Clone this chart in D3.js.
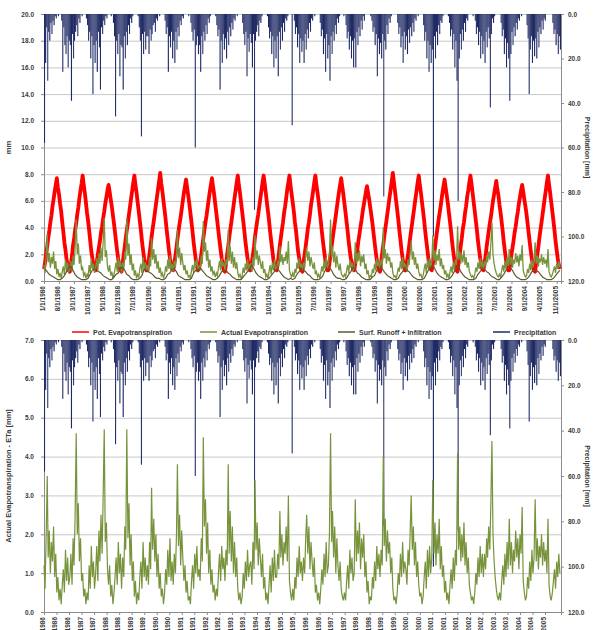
<!DOCTYPE html>
<html><head><meta charset="utf-8">
<script src="https://cdn.jsdelivr.net/npm/d3@7"></script>
<style>
body{margin:0;background:#fff}
svg{display:block}
text{font-family:"Liberation Sans",Arial,sans-serif}
</style>
</head><body>
<svg id="chart" width="593" height="630"></svg>
<script>
// ---------- DATA ----------
const years = [1986,1987,1988,1989,1990,1991,1992,1993,1994,1995,1996,1997,1998,1999,2000,2001,2002,2003,2004,2005];

// Potential evapotranspiration, mm/day, two values per month (1st, 16th)
const petValues = [
[0.9,1.4,2.1,2.6,3.2,3.7,4.4,4.9,5.6,6.1,6.7,7.2,7.7,7.0,6.5,5.8,5.2,4.4,3.7,2.9,2.3,1.6,1.2,0.8],
[0.7,1.3,1.9,2.7,3.1,3.8,4.3,5.0,5.5,6.2,6.8,7.3,7.9,7.2,6.6,5.9,5.1,4.5,3.8,3.0,2.2,1.7,1.1,0.9],
[0.8,1.4,2.0,2.5,3.0,3.6,4.1,4.7,5.2,5.8,6.3,6.8,7.2,6.7,6.1,5.6,4.9,4.3,3.6,2.9,2.2,1.6,1.1,0.8],
[0.7,1.3,2.0,2.6,3.2,3.8,4.4,5.0,5.6,6.2,6.8,7.4,7.9,7.2,6.6,5.9,5.2,4.5,3.8,3.0,2.3,1.7,1.2,0.8],
[0.8,1.4,2.1,2.7,3.3,3.9,4.5,5.1,5.7,6.3,6.9,7.5,8.1,7.3,6.7,6.0,5.3,4.6,3.8,3.1,2.3,1.7,1.2,0.9],
[0.8,1.3,1.9,2.5,3.1,3.7,4.3,4.8,5.4,6.0,6.6,7.1,7.6,7.0,6.4,5.8,5.1,4.4,3.7,2.9,2.2,1.6,1.1,0.8],
[0.9,1.4,2.0,2.6,3.2,3.8,4.4,4.9,5.5,6.1,6.7,7.2,7.7,7.1,6.5,5.8,5.1,4.4,3.7,3.0,2.3,1.7,1.2,0.8],
[0.7,1.3,2.0,2.6,3.2,3.8,4.4,5.0,5.6,6.2,6.8,7.4,7.9,7.2,6.6,5.9,5.2,4.5,3.8,3.0,2.3,1.7,1.1,0.8],
[0.8,1.4,2.0,2.6,3.3,3.9,4.5,5.0,5.6,6.2,6.8,7.4,7.9,7.3,6.6,5.9,5.2,4.5,3.7,3.0,2.3,1.6,1.2,0.9],
[0.8,1.3,2.0,2.7,3.2,3.8,4.4,5.1,5.6,6.2,6.9,7.4,7.9,7.2,6.5,5.9,5.2,4.4,3.8,3.0,2.2,1.7,1.2,0.8],
[0.7,1.4,2.0,2.6,3.2,3.9,4.4,5.0,5.7,6.2,6.8,7.4,7.9,7.2,6.6,6.0,5.2,4.5,3.7,3.0,2.3,1.7,1.1,0.8],
[0.8,1.3,2.0,2.6,3.1,3.7,4.3,4.9,5.5,6.1,6.7,7.2,7.7,7.1,6.5,5.8,5.1,4.4,3.7,2.9,2.2,1.6,1.2,0.9],
[0.8,1.3,1.9,2.4,3.0,3.5,4.1,4.6,5.2,5.7,6.2,6.7,7.1,6.6,6.1,5.5,4.9,4.3,3.6,2.9,2.2,1.6,1.1,0.8],
[0.7,1.4,2.1,2.7,3.3,3.9,4.5,5.1,5.7,6.3,6.9,7.5,8.1,7.4,6.7,6.0,5.3,4.6,3.8,3.1,2.3,1.7,1.2,0.8],
[0.8,1.4,2.0,2.6,3.2,3.8,4.4,5.0,5.6,6.2,6.8,7.4,7.9,7.2,6.6,5.9,5.2,4.5,3.7,3.0,2.3,1.6,1.2,0.9],
[0.8,1.3,1.9,2.5,3.1,3.7,4.3,4.9,5.4,6.0,6.6,7.1,7.6,7.0,6.4,5.8,5.1,4.4,3.7,2.9,2.2,1.6,1.1,0.8],
[0.7,1.4,2.0,2.7,3.2,3.9,4.4,5.1,5.6,6.3,6.8,7.4,7.9,7.3,6.6,5.9,5.2,4.5,3.8,3.0,2.3,1.7,1.2,0.9],
[0.8,1.3,1.9,2.6,3.1,3.7,4.3,4.8,5.4,6.0,6.5,7.0,7.5,6.9,6.4,5.7,5.1,4.4,3.7,2.9,2.2,1.6,1.1,0.8],
[0.8,1.3,2.0,2.5,3.0,3.6,4.1,4.7,5.2,5.8,6.3,6.8,7.2,6.7,6.1,5.6,5.0,4.3,3.6,2.9,2.2,1.6,1.1,0.8],
[0.7,1.4,2.0,2.6,3.2,3.8,4.4,5.0,5.6,6.2,6.8,7.4,7.9,7.2,6.6,5.9,5.2,4.5,3.8,3.0,2.3,1.7,1.2,0.9]
];

// Actual evapotranspiration, mm/day, two values per month
const aetValues = [
[1.2,0.6,2.0,3.5,1.4,2.1,1.0,1.8,1.3,2.2,0.9,1.5,0.5,0.9,0.3,0.6,0.2,0.7,1.1,0.5,1.6,0.8,1.4,0.7],
[0.9,1.5,0.7,1.9,1.2,2.4,4.6,2.0,2.8,1.3,1.9,0.8,1.0,0.4,0.6,0.2,0.5,0.3,1.2,0.6,1.7,0.9,1.3,0.6],
[1.0,1.7,0.8,2.1,1.3,2.5,1.5,3.0,4.7,1.8,2.3,1.1,0.7,1.2,0.4,0.7,0.2,0.5,0.9,1.4,0.7,1.8,1.0,1.5],
[0.6,1.4,0.9,2.2,1.6,4.7,1.9,2.8,1.2,2.0,0.8,1.3,0.4,0.8,0.2,0.5,0.3,0.9,1.3,0.6,1.8,0.9,1.4,0.8],
[1.2,0.7,1.8,1.1,3.2,1.6,2.4,1.3,2.0,0.9,1.5,0.6,1.0,0.4,0.6,0.2,0.5,1.1,0.7,1.6,0.9,1.9,0.8,1.3],
[0.7,1.5,1.0,2.0,3.8,1.7,2.5,1.2,2.1,1.4,0.8,1.2,0.5,0.8,0.3,0.4,0.2,0.8,1.2,0.6,1.5,1.0,1.7,0.9],
[1.1,0.8,1.9,1.3,4.5,2.2,2.9,1.5,2.3,1.0,1.6,0.7,1.1,0.5,0.7,0.3,0.6,0.4,1.0,1.5,0.8,1.7,1.1,1.4],
[0.8,1.6,1.2,3.8,1.5,2.6,1.3,2.2,1.0,1.8,0.9,1.4,0.6,0.3,0.5,0.2,0.4,1.0,0.6,1.3,0.8,1.6,0.9,1.2],
[1.3,0.7,1.8,1.1,3.4,1.6,2.3,1.2,1.9,1.4,0.9,1.5,0.6,0.9,0.3,0.5,0.2,0.7,1.2,0.5,1.4,0.8,1.6,0.9],
[0.9,1.5,1.1,2.6,1.4,2.0,1.2,1.8,1.5,2.2,1.3,3.0,0.8,0.5,0.3,0.6,0.3,0.9,0.6,1.4,0.9,1.7,1.0,1.3],
[0.8,1.4,1.0,1.9,2.5,1.5,2.2,1.1,1.8,1.3,0.9,1.4,0.5,0.7,0.3,0.5,0.2,0.6,1.1,0.7,1.5,0.9,1.8,1.0],
[1.2,2.0,4.6,1.8,2.6,1.4,2.2,1.0,1.9,1.2,0.8,1.3,0.6,0.4,0.3,0.5,0.3,0.8,1.2,0.6,1.6,1.0,1.4,0.8],
[1.0,2.9,1.3,2.1,1.5,2.3,1.1,1.9,1.4,2.0,0.9,1.3,0.5,0.8,0.2,0.4,0.3,0.9,0.6,1.3,0.8,1.7,1.1,1.5],
[0.9,1.6,1.2,4.0,1.7,2.4,1.3,2.1,1.5,1.8,1.0,1.4,0.6,0.3,0.4,0.2,0.5,1.0,0.7,1.5,0.9,1.8,1.0,1.3],
[1.1,0.7,1.6,1.2,2.0,3.0,1.6,2.2,1.2,1.8,0.9,1.3,0.7,0.4,0.5,0.2,0.4,0.9,1.3,0.6,1.6,0.9,1.7,1.0],
[1.4,3.4,1.5,2.3,1.2,2.0,1.5,2.4,1.1,1.7,0.9,1.2,0.5,0.8,0.3,0.5,0.2,0.7,1.1,0.6,1.4,0.8,1.6,1.2],
[4.1,1.6,2.2,1.3,2.0,1.4,2.3,1.2,1.8,1.0,1.4,0.7,0.5,0.3,0.4,0.2,0.5,1.0,0.7,1.4,0.9,1.7,1.0,1.5],
[0.9,1.5,1.1,1.9,1.4,2.2,1.6,2.8,4.4,2.0,1.3,0.9,0.6,0.4,0.3,0.5,0.3,0.8,1.2,0.7,1.5,0.9,1.8,1.1],
[2.4,1.2,1.8,1.0,1.6,1.3,2.1,1.4,1.9,1.1,2.0,1.5,2.7,0.8,0.5,0.3,0.4,0.9,0.6,1.3,0.8,1.6,1.0,1.4],
[2.9,1.3,1.9,1.1,1.7,1.4,2.0,1.2,1.8,1.3,1.6,1.0,2.4,0.7,0.4,0.3,0.5,0.8,1.1,0.6,1.3,0.9,1.5,1.0]
];

// Precipitation, mm, two values per month
const precipValues = [
[58,22,6,30,8,12,4,9,3,5,1,2,0,1,0,0,3,26,6,14,18,10,24,12],
[14,39,9,20,12,8,5,10,2,4,0,1,0,0,0,2,5,12,8,20,10,36,14,22],
[12,26,8,15,34,6,9,3,5,1,2,0,0,0,1,0,4,10,46,12,18,9,28,14],
[15,34,10,20,8,14,5,9,2,4,1,0,0,0,0,1,6,12,55,9,18,8,16,10],
[10,18,7,12,9,5,4,8,2,3,0,1,0,0,0,0,3,9,6,26,10,15,8,20],
[12,22,8,16,6,10,3,5,1,2,0,0,0,0,1,0,4,8,12,7,60,14,10,18],
[14,26,10,18,8,12,5,9,2,4,1,0,0,0,0,1,5,10,7,34,12,22,9,16],
[11,20,8,14,6,10,4,7,2,3,0,1,0,0,0,0,4,9,14,8,28,11,17,9],
[13,24,9,88,12,8,5,10,3,4,1,0,0,0,0,1,6,11,8,18,10,24,12,20],
[10,28,8,16,6,12,4,8,2,3,1,0,0,0,50,0,3,9,6,15,9,22,11,17],
[12,22,9,16,7,11,4,8,2,3,0,1,0,0,0,0,4,10,7,18,11,26,9,20],
[14,30,10,18,8,12,5,9,2,4,1,0,0,0,1,0,5,11,8,16,10,20,12,24],
[11,24,8,14,6,10,3,7,1,3,0,0,0,0,0,1,3,8,6,14,9,28,11,18],
[13,20,9,82,12,16,5,9,2,4,1,0,0,0,0,0,4,9,6,15,10,22,8,16],
[10,18,7,13,6,10,4,8,2,3,0,1,0,0,0,0,5,12,8,20,12,26,14,22],
[16,100,10,20,8,14,5,9,3,4,1,0,0,0,0,1,4,10,7,16,9,24,12,30],
[84,20,9,16,7,12,4,8,2,3,0,0,0,0,1,0,3,9,6,14,8,20,10,18],
[12,22,8,15,6,11,42,9,2,4,1,0,0,0,0,0,4,10,7,18,11,24,13,20],
[39,18,8,14,6,10,4,7,2,3,0,1,0,0,0,0,5,11,36,16,10,22,12,19],
[11,20,8,15,6,9,3,7,2,3,0,0,0,0,0,0,4,9,7,14,9,18,10,16]
];

// Surface runoff + infiltration, mm/day, one value per month (mid-month)
const runoffValues = [
[0.9,0.7,0.5,0.4,0.3,0.2,0.1,0.1,0.2,0.4,0.7,1.0],
[1.1,0.8,0.5,0.3,0.2,0.1,0.1,0.1,0.2,0.5,0.8,0.9],
[0.8,0.7,0.6,0.4,0.3,0.2,0.1,0.1,0.3,0.5,0.6,1.0],
[1.0,0.8,0.5,0.4,0.2,0.1,0.1,0.1,0.2,0.4,0.9,0.8],
[0.7,0.6,0.5,0.3,0.2,0.2,0.1,0.1,0.2,0.5,0.6,0.9],
[0.9,0.7,0.4,0.3,0.2,0.1,0.1,0.1,0.2,0.6,0.8,0.7],
[1.0,0.8,0.6,0.4,0.3,0.2,0.1,0.1,0.2,0.4,0.7,0.8],
[0.8,0.6,0.5,0.3,0.2,0.1,0.1,0.1,0.3,0.5,0.7,0.9],
[1.2,0.9,0.6,0.4,0.3,0.2,0.1,0.1,0.2,0.4,0.6,0.8],
[0.9,0.7,0.5,0.3,0.2,0.1,0.2,0.1,0.2,0.5,0.7,0.9],
[0.8,0.7,0.5,0.4,0.2,0.1,0.1,0.1,0.2,0.4,0.8,0.9],
[1.0,0.8,0.5,0.3,0.2,0.2,0.1,0.1,0.2,0.5,0.7,1.0],
[0.9,0.6,0.5,0.3,0.2,0.1,0.1,0.1,0.3,0.4,0.8,0.8],
[1.1,0.8,0.6,0.4,0.3,0.2,0.1,0.1,0.2,0.5,0.7,0.9],
[0.8,0.7,0.5,0.3,0.2,0.1,0.1,0.1,0.2,0.5,0.8,1.0],
[1.2,0.9,0.6,0.4,0.3,0.2,0.1,0.1,0.2,0.4,0.7,1.0],
[1.1,0.7,0.5,0.3,0.2,0.1,0.1,0.1,0.2,0.5,0.7,0.9],
[0.9,0.7,0.6,0.4,0.3,0.2,0.1,0.1,0.3,0.5,0.8,1.0],
[1.0,0.8,0.5,0.3,0.2,0.1,0.1,0.1,0.2,0.4,0.7,0.8],
[0.8,0.7,0.5,0.3,0.2,0.1,0.1,0.1,0.2,0.4,0.6,0.8]
];

const topLeftTicks = [0,2,4,6,8,10,12,14,16,18,20];
const bottomLeftTicks = [0,1,2,3,4,5,6,7];
const precipTicks = [0,20,40,60,80,100,120];

const topDateTicks = ["1/1/1986","8/1/1986","3/1/1987","10/1/1987","5/1/1988","12/1/1988","7/1/1989","2/1/1990","9/1/1990","4/1/1991","11/1/1991","6/1/1992","1/1/1993","8/1/1993","3/1/1994","10/1/1994","5/1/1995","12/1/1995","7/1/1996","2/1/1997","9/1/1997","4/1/1998","11/1/1998","6/1/1999","1/1/2000","8/1/2000","3/1/2001","10/1/2001","5/1/2002","12/1/2002","7/1/2003","2/1/2004","9/1/2004","4/1/2005","11/1/2005"];
const bottomDateTicks = ["1/1/1986","6/27/1986","12/21/1986","6/16/1987","12/10/1987","6/4/1988","11/28/1988","5/24/1989","11/17/1989","5/13/1990","11/6/1990","5/2/1991","10/26/1991","4/20/1992","10/14/1992","4/9/1993","10/3/1993","3/29/1994","9/22/1994","3/18/1995","9/11/1995","3/6/1996","8/30/1996","2/23/1997","8/19/1997","2/12/1998","8/8/1998","2/1/1999","7/28/1999","1/21/2000","7/16/2000","1/9/2001","7/5/2001","12/29/2001","6/24/2002","12/18/2002","6/13/2003","12/7/2003","6/1/2004","11/25/2004","5/21/2005"];

const seriesNames = ["Pot. Evapotranspiration","Actual Evapotranspiration","Surf. Runoff + Infiltration","Precipitation"];
const seriesColors = ["#FF0000","#77933C","#5F5A2C","#1F2A64"];

// ---------- BUILD ----------
const parse = d3.timeParse("%m/%d/%Y");
const semiDates = [];
years.forEach(y => { for (let m = 0; m < 12; m++) { semiDates.push(new Date(y, m, 1)); semiDates.push(new Date(y, m, 16)); } });
semiDates.push(new Date(2006, 0, 1));
const monthDates = [];
years.forEach(y => { for (let m = 0; m < 12; m++) monthDates.push(new Date(y, m, 15)); });

const pet = petValues.flat().map((v, i) => ({d: semiDates[i], v}));
const aet = aetValues.flat().map((v, i) => ({d: semiDates[i], v}));
const prc = precipValues.flat().map((v, i) => ({d: semiDates[i], e: semiDates[i + 1], v}));
const ro  = runoffValues.flat().map((v, i) => ({d: monthDates[i], v}));

const svg = d3.select("#chart");
const X0 = 44, X1 = 561;
const x = d3.scaleTime().domain([new Date(1986,0,1), new Date(2006,0,1)]).range([X0, X1]);

const gridCol = "#c8c8c8", axisCol = "#8c8c8c", txtCol = "#3a3a3a";

function panel(opts) {
  const {top, bottom, yMax, leftTicks, dateTicks, leftTitle} = opts;
  const yL = d3.scaleLinear().domain([0, yMax]).range([bottom, top]);
  const yR = d3.scaleLinear().domain([0, 120]).range([top, bottom]);
  const g = svg.append("g");

  g.append("g").attr("transform", `translate(${X0},0)`)
    .call(d3.axisLeft(yL).tickValues(leftTicks).tickSize(-(X1 - X0)).tickFormat(""))
    .call(a => a.select(".domain").remove())
    .call(a => a.selectAll("line").attr("stroke", gridCol).attr("stroke-width", 1));

  g.append("g").attr("transform", `translate(${X0},0)`)
    .call(d3.axisLeft(yL).tickValues(leftTicks).tickSize(3).tickPadding(7).tickFormat(d3.format(".1f")))
    .call(a => a.select(".domain").attr("stroke", axisCol))
    .call(a => a.selectAll("line").attr("stroke", axisCol))
    .call(a => a.selectAll("text").attr("fill", txtCol).attr("font-size", "6.5px").attr("font-weight", "bold"));

  g.append("g").attr("transform", `translate(${X1},0)`)
    .call(d3.axisRight(yR).tickValues(precipTicks).tickSize(3).tickPadding(4).tickFormat(d3.format(".1f")))
    .call(a => a.select(".domain").attr("stroke", axisCol))
    .call(a => a.selectAll("line").attr("stroke", axisCol))
    .call(a => a.selectAll("text").attr("fill", txtCol).attr("font-size", "6.5px").attr("font-weight", "bold"));

  g.append("g").attr("transform", `translate(0,${bottom})`)
    .call(d3.axisBottom(x).tickValues(dateTicks.map(parse)).tickSize(3).tickFormat(d3.timeFormat("%-m/%-d/%Y")))
    .call(a => a.select(".domain").attr("stroke", axisCol))
    .call(a => a.selectAll("line").attr("stroke", axisCol))
    .call(a => a.selectAll("text").attr("fill", txtCol).attr("font-size", "6.5px").attr("font-weight", "bold")
      .attr("transform", "rotate(-90)").attr("text-anchor", "end").attr("dy", "-0.2em").attr("y", 0).attr("x", -5)
      .style("dominant-baseline", "middle"));

  g.append("text").attr("transform", `translate(11,${(top + bottom) / 2}) rotate(-90)`)
    .attr("text-anchor", "middle").attr("font-size", "7.5px").attr("font-weight", "bold").attr("fill", txtCol).text(leftTitle);
  g.append("text").attr("transform", `translate(585,${(top + bottom) / 2}) rotate(90)`)
    .attr("text-anchor", "middle").attr("font-size", "7px").attr("font-weight", "bold").attr("fill", txtCol).text("Precipitation [mm]");

  // precipitation hanging from the top (reversed axis)
  g.append("g").selectAll("rect").data(prc.filter(d => d.v > 0)).join("rect")
    .attr("x", d => x(d.d)).attr("width", d => Math.max(1, x(d.e) - x(d.d)))
    .attr("y", top).attr("height", d => yR(d.v) - top)
    .attr("fill", seriesColors[3]);

  return {g, yL, yR};
}

const P1 = panel({top: 14, bottom: 281, yMax: 20, leftTicks: topLeftTicks, dateTicks: topDateTicks, leftTitle: "mm"});
P1.g.append("path").datum(pet)
  .attr("d", d3.line().x(d => x(d.d)).y(d => P1.yL(d.v)))
  .attr("fill", "none").attr("stroke", seriesColors[0]).attr("stroke-width", 3.8).attr("stroke-linejoin", "round");
P1.g.append("path").datum(aet)
  .attr("d", d3.line().x(d => x(d.d)).y(d => P1.yL(d.v)))
  .attr("fill", "none").attr("stroke", seriesColors[1]).attr("stroke-width", 1.3);
P1.g.append("path").datum(ro)
  .attr("d", d3.line().x(d => x(d.d)).y(d => P1.yL(d.v)))
  .attr("fill", "none").attr("stroke", seriesColors[2]).attr("stroke-width", 1.2);

const legX = [72, 200, 338, 493];
const leg = svg.append("g").attr("transform", "translate(0,332)");
seriesNames.forEach((n, i) => {
  leg.append("line").attr("x1", legX[i]).attr("x2", legX[i] + 17).attr("y1", 0).attr("y2", 0)
    .attr("stroke", seriesColors[i]).attr("stroke-width", 1.5);
  leg.append("text").attr("x", legX[i] + 21).attr("y", 2.5).attr("font-size", "7px").attr("font-weight", "bold")
    .attr("fill", txtCol).text(n);
});

const P2 = panel({top: 340, bottom: 612, yMax: 7, leftTicks: bottomLeftTicks, dateTicks: bottomDateTicks, leftTitle: "Actual Evapotranspiration - ETa [mm]"});
P2.g.append("path").datum(aet)
  .attr("d", d3.line().x(d => x(d.d)).y(d => P2.yL(d.v)))
  .attr("fill", "none").attr("stroke", seriesColors[1]).attr("stroke-width", 1.2);
</script>
</body></html>
